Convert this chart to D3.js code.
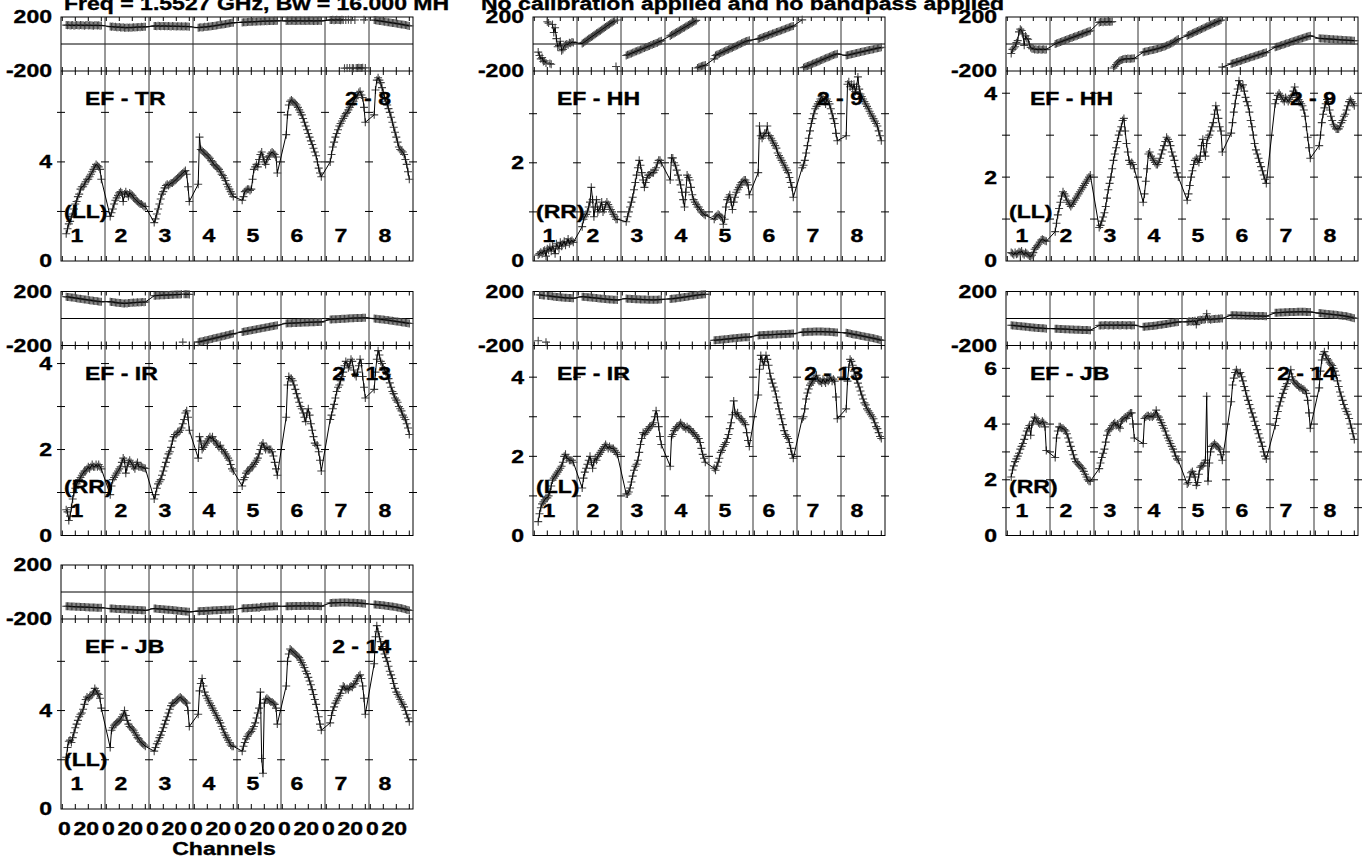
<!DOCTYPE html>
<html><head><meta charset="utf-8">
<script src="https://cdn.jsdelivr.net/npm/d3@7"></script>
<style>
body{margin:0;background:#fff}
svg{display:block;background:#fff}
text{font-family:"Liberation Sans",Arial,Helvetica,sans-serif;font-weight:bold;fill:#000;stroke:#000;stroke-width:0.35px}
</style>
</head><body>
<svg id="chart" width="1366" height="860"></svg>
<script>
// ---------------- data ----------------
const channels=[3,4,5,6,7,8,9,10,11,12,13,14,15,16,17,18,19,20,21,22,23,24,25,26,27,28,29,30];
const ifLabels=["1","2","3","4","5","6","7","8"];
const baselineNames=["EF - TR","EF - HH","EF - HH","EF - IR","EF - IR","EF - JB","EF - JB"];
const polNames=["(LL)","(RR)","(LL)","(RR)","(LL)","(RR)","(LL)"];
const pairNames=["2 - 8","2 - 9","2 - 9","2 - 13","2 - 13","2 - 14","2 - 14"];
const ampMax=[7.67,3.87,4.53,4.42,4.8,6.82,7.72];
const ampTickStep=[2,1,1,1,1,1,2];
const ampLabelStep=[4,2,2,2,2,2,4];
const phaseLabels=[200,-200];
const channelTicks=[0,10,20,30];
const channelLabels=[0,20];
const titleLeft="Freq = 1.5527 GHz, Bw = 16.000 MH";
const titleRight="No calibration applied and no bandpass applied";
const xAxisTitle="Channels";

const ampTR_LL=[
[1.1,1.3,1.5,1.6,1.8,1.9,2.1,2.3,2.4,2.6,2.7,2.9,3.0,3.0,3.1,3.2,3.3,3.3,3.4,3.5,3.6,3.7,3.8,3.9,3.85,3.8,3.7,3.3],
[1.8,1.95,2.1,2.3,2.45,2.55,2.65,2.75,2.8,2.75,2.4,2.7,2.8,2.7,2.6,2.75,2.7,2.65,2.55,2.5,2.45,2.4,2.35,2.3,2.3,2.25,2.2,2.2],
[1.55,1.7,1.9,2.1,2.3,2.5,2.7,2.8,2.95,3.05,3.1,3.05,3.1,3.15,3.15,3.2,3.25,3.3,3.35,3.4,3.45,3.5,3.55,3.6,3.65,3.5,3.0,2.4],
[3.1,5.0,4.5,4.45,4.4,4.35,4.3,4.25,4.2,4.15,4.05,4.0,3.9,3.85,3.8,3.75,3.7,3.6,3.5,3.45,3.35,3.25,3.1,3.0,2.9,2.8,2.7,2.6],
[2.45,2.6,2.8,2.85,2.9,2.9,2.85,2.9,3.3,3.7,3.8,3.9,3.8,4.1,4.3,4.4,4.2,4.0,3.9,4.1,4.2,4.25,4.35,4.4,4.35,4.3,4.2,3.55],
[5.1,5.9,6.3,6.45,6.5,6.45,6.4,6.35,6.3,6.2,6.1,6.0,5.9,5.75,5.6,5.45,5.3,5.15,5.0,4.85,4.7,4.55,4.4,4.25,4.0,3.75,3.55,3.4],
[4.0,4.3,4.6,4.8,5.0,5.15,5.3,5.45,5.55,5.65,5.75,5.85,5.95,6.0,6.1,6.2,6.3,6.35,6.45,6.55,6.6,6.7,6.8,6.85,6.7,6.6,6.2,5.6],
[5.9,6.9,7.3,7.4,7.3,7.2,7.0,6.8,6.6,6.45,6.3,6.15,6.0,5.8,5.6,5.4,5.2,5.0,4.8,4.6,4.5,4.45,4.4,4.3,4.1,3.9,3.6,3.3]];
const phsTR_LL=[
[140,138,141,137,139,140,136,139,141,138,137,140,139,138,136,139,140,137,138,139,137,136,138,139,137,138,136,137],
[130,128,129,126,127,125,124,126,123,122,124,121,120,122,121,123,120,122,124,123,125,124,126,125,127,126,128,127],
[133,134,132,135,133,131,134,133,132,134,131,133,132,130,133,131,132,130,131,132,130,131,129,130,131,129,130,128],
[121,122,124,123,125,127,126,128,130,129,131,133,134,136,137,139,140,142,144,145,147,149,150,152,153,155,157,158],
[160,161,162,161,163,164,163,165,164,166,165,167,166,168,167,168,169,168,170,169,170,171,170,171,170,172,171,172],
[171,172,170,171,173,172,171,170,172,171,173,172,171,170,172,171,170,172,173,171,172,170,171,172,171,173,172,171],
[178,177,179,176,178,179,177,178,176,179,178,-179,178,-178,179,-177,177,-178,-179,178,-177,-178,-176,-177,-178,-176,179,-177],
[177,176,174,173,171,170,168,167,165,164,162,161,159,158,156,155,153,152,150,149,147,145,144,142,140,138,136,134]];

const ampHH_RR=[
[0.12,0.15,0.18,0.15,0.2,0.22,0.1,0.25,0.22,0.28,0.2,0.3,0.25,0.15,0.35,0.3,0.25,0.38,0.3,0.35,0.4,0.32,0.38,0.45,0.35,0.4,0.42,0.38],
[0.7,0.85,0.9,0.95,1.0,1.1,1.2,1.5,1.25,0.9,1.1,1.25,1.0,1.05,1.1,1.2,1.0,1.05,1.15,1.2,1.15,1.1,1.05,1.0,0.95,0.9,0.85,0.85],
[0.8,0.9,1.0,1.1,1.2,1.3,1.45,1.6,1.75,1.9,2.05,1.95,1.8,1.65,1.5,1.6,1.7,1.75,1.75,1.8,1.8,1.8,1.85,1.9,2.0,2.05,2.05,2.0],
[1.65,2.1,2.1,2.0,1.95,1.85,1.75,1.65,1.55,1.4,1.25,1.1,1.4,1.75,1.7,1.65,1.5,1.35,1.25,1.2,1.15,1.1,1.1,1.05,1.0,0.98,0.95,0.93],
[0.85,0.9,0.92,0.95,0.93,0.9,0.88,0.75,0.85,1.1,1.25,1.3,1.35,1.2,1.05,1.2,1.3,1.4,1.45,1.5,1.55,1.6,1.62,1.65,1.65,1.6,1.55,1.35],
[1.8,2.75,2.55,2.5,2.55,2.6,2.6,2.75,2.55,2.55,2.5,2.45,2.4,2.35,2.3,2.2,2.15,2.1,2.05,2.0,1.95,1.9,1.85,1.8,1.7,1.6,1.5,1.3],
[1.9,1.95,2.05,2.2,2.35,2.5,2.65,2.8,2.9,3.0,3.1,3.15,3.2,3.25,3.3,3.35,3.3,3.25,3.2,3.3,3.25,3.2,3.1,3.0,2.9,2.8,2.6,2.45],
[2.55,3.6,3.65,3.55,3.6,3.5,3.6,3.45,3.55,3.75,3.5,3.4,3.35,3.3,3.25,3.2,3.15,3.1,3.05,3.0,2.95,2.9,2.85,2.8,2.75,2.65,2.55,2.45]];
const phsHH_RR=[
[-60,-85,-110,-100,-130,-125,-140,165,155,-145,-150,145,85,120,40,-20,-10,20,-50,-40,-15,-5,0,-5,10,5,15,12],
[3,10,17,24,31,38,45,52,58,65,72,79,86,92,99,106,113,120,126,133,140,147,153,160,166,172,-167,178],
[-85,-80,-78,-72,-70,-64,-62,-56,-54,-48,-46,-40,-38,-32,-30,-24,-22,-16,-14,-8,-6,0,2,8,10,16,20,25],
[60,66,72,77,83,89,95,100,106,112,118,123,129,135,141,146,152,158,164,169,175,-178,-173,-169,-165,-162,-159,-156],
[-110,-85,-80,-76,-72,-67,-63,-58,-54,-49,-45,-40,-36,-31,-27,-22,-18,-13,-9,-4,0,5,9,14,18,22,25,28],
[37,41,44,48,52,55,59,62,66,70,73,77,80,84,88,91,95,98,102,106,109,113,116,120,124,127,131,134],
[179,-175,-171,-167,-163,-159,-155,-151,-147,-143,-139,-135,-131,-127,-122,-118,-114,-110,-106,-102,-98,-94,-90,-86,-82,-78,-75,-73],
[-85,-83,-81,-78,-76,-74,-72,-69,-67,-65,-63,-60,-58,-56,-54,-51,-49,-47,-45,-42,-40,-38,-36,-33,-31,-29,-27,-24]];

const ampHH_LL=[
[0.2,0.18,0.15,0.2,0.16,0.18,0.22,0.2,0.24,0.18,0.15,0.2,0.18,0.15,0.12,0.1,0.14,0.2,0.28,0.32,0.36,0.4,0.45,0.5,0.52,0.5,0.48,0.47],
[0.7,0.9,1.1,1.25,1.4,1.55,1.65,1.6,1.55,1.45,1.4,1.35,1.3,1.35,1.4,1.45,1.5,1.55,1.6,1.65,1.7,1.75,1.8,1.85,1.9,1.95,2.0,2.05],
[0.8,0.85,0.95,1.05,1.15,1.3,1.5,1.7,1.85,2.0,2.2,2.4,2.55,2.7,2.85,3.0,3.1,3.2,3.35,3.4,3.1,2.8,2.6,2.4,2.3,2.35,2.3,2.2],
[1.4,1.6,1.9,2.2,2.55,2.6,2.5,2.45,2.4,2.35,2.3,2.3,2.35,2.45,2.55,2.65,2.75,2.85,2.95,2.9,2.85,2.75,2.6,2.5,2.4,2.25,2.1,2.0],
[1.45,1.6,1.8,2.0,2.15,2.3,2.4,2.45,2.4,2.35,2.5,2.75,2.9,2.6,2.5,2.8,2.95,3.0,3.1,3.2,3.3,3.5,3.7,3.6,3.4,3.2,3.1,2.6],
[3.05,3.3,3.55,3.75,3.95,4.1,4.3,4.2,4.15,4.2,4.05,3.9,3.8,3.7,3.55,3.35,3.2,3.0,2.8,2.65,2.55,2.45,2.35,2.25,2.15,2.05,1.95,1.85],
[3.75,3.85,3.95,4.0,3.95,3.9,3.85,3.8,3.9,3.85,3.8,3.85,3.9,3.95,4.05,4.15,4.0,3.9,3.85,3.8,3.75,3.7,3.6,3.45,3.2,2.95,2.7,2.45],
[2.75,3.0,3.3,3.5,3.65,3.75,3.85,3.8,3.6,3.45,3.35,3.25,3.2,3.15,3.15,3.15,3.2,3.3,3.35,3.45,3.5,3.6,3.7,3.8,3.85,3.8,3.75,3.7]];
const phsHH_LL=[
[-70,-40,-30,-20,10,25,90,110,100,75,-10,60,40,35,-5,-25,-35,-35,-40,-38,-42,-40,-38,-42,-40,-38,-42,-40],
[0,4,8,11,15,18,22,26,29,33,37,40,44,47,51,55,58,62,66,69,73,76,80,84,87,91,94,98],
[160,163,165,162,166,164,163,167,165,164,166,-178,-165,-152,-140,-130,-122,-118,-115,-112,-110,-111,-108,-110,-109,-107,-108,-106],
[-61,-58,-56,-54,-51,-49,-47,-44,-42,-40,-37,-35,-32,-29,-26,-23,-20,-16,-12,-8,-4,1,6,12,18,25,31,37],
[61,66,70,75,79,84,88,93,97,102,106,111,115,120,124,129,133,138,142,147,151,156,160,165,169,173,177,-171],
[-147,-144,-141,-138,-134,-131,-128,-125,-122,-118,-115,-112,-109,-106,-102,-99,-96,-93,-90,-86,-83,-80,-77,-74,-70,-67,-64,-61],
[-24,-21,-18,-15,-11,-8,-5,-2,2,5,8,11,15,18,21,24,27,31,34,37,40,43,47,50,53,56,59,61],
[42,41,41,40,39,39,38,37,37,36,35,35,34,33,33,32,31,31,30,29,29,28,27,27,26,26,25,25]];

const ampIR_RR=[
[0.6,0.55,0.35,0.45,0.65,0.85,1.0,1.1,1.2,1.25,1.3,1.35,1.4,1.45,1.5,1.5,1.55,1.6,1.55,1.6,1.65,1.6,1.6,1.65,1.6,1.65,1.6,1.55],
[0.95,1.15,1.3,1.35,1.4,1.45,1.5,1.55,1.6,1.7,1.8,1.75,1.45,1.6,1.7,1.75,1.7,1.65,1.6,1.55,1.65,1.7,1.6,1.6,1.6,1.58,1.57,1.56],
[0.85,0.95,1.1,1.2,1.25,1.3,1.4,1.5,1.6,1.7,1.8,1.9,1.95,2.05,2.2,2.3,2.35,2.35,2.4,2.4,2.45,2.5,2.6,2.7,2.85,2.9,2.75,2.45],
[1.8,2.3,2.2,2.0,2.05,2.1,2.15,2.2,2.25,2.3,2.25,2.3,2.2,2.2,2.15,2.1,2.05,2.1,2.0,2.0,1.95,1.9,1.85,1.8,1.75,1.65,1.55,1.5],
[1.15,1.3,1.35,1.45,1.5,1.5,1.55,1.6,1.6,1.65,1.7,1.75,1.8,1.9,2.0,2.1,2.15,2.05,2.0,2.05,2.0,2.0,2.0,1.95,1.85,1.7,1.55,1.4],
[2.75,3.5,3.7,3.65,3.65,3.6,3.5,3.4,3.3,3.2,3.1,3.0,2.95,2.85,2.75,2.65,2.85,2.95,2.8,2.6,2.45,2.3,2.15,2.1,2.1,1.95,1.75,1.5],
[2.7,2.8,2.95,3.05,3.2,3.35,3.45,3.5,3.6,3.7,3.8,3.95,4.05,4.0,3.9,3.95,4.1,4.05,3.85,3.75,3.7,3.8,3.95,4.1,4.0,3.7,3.45,3.2],
[3.4,3.8,4.1,4.3,4.2,4.05,4.0,3.9,3.85,3.8,3.75,3.65,3.55,3.45,3.35,3.3,3.2,3.15,3.1,3.0,2.95,2.9,2.8,2.75,2.7,2.6,2.5,2.35]];
const phsIR_RR=[
[162,160,159,157,156,155,153,152,150,149,147,146,144,143,141,140,139,137,136,134,133,131,130,129,127,126,125,124],
[125,123,122,120,118,117,116,115,114,113,112,112,113,112,114,115,116,117,118,117,119,120,119,121,120,122,121,122],
[168,169,170,170,171,172,172,173,173,174,174,175,175,176,176,176,177,177,178,178,178,179,-175,179,179,179,179,178],
[-175,-173,-170,-168,-166,-163,-161,-159,-157,-154,-152,-150,-147,-145,-143,-140,-138,-136,-133,-131,-129,-126,-124,-122,-119,-117,-115,-112],
[-100,-98,-96,-94,-92,-91,-89,-87,-85,-83,-81,-79,-78,-76,-74,-72,-70,-68,-67,-65,-63,-61,-59,-57,-55,-54,-52,-50],
[-37,-36,-36,-35,-35,-34,-34,-33,-33,-32,-32,-31,-31,-30,-30,-29,-29,-29,-28,-28,-28,-27,-27,-26,-26,-26,-25,-25],
[-8,-7,-6,-6,-5,-5,-4,-3,-3,-2,-2,-1,-1,0,0,1,1,2,2,3,3,3,4,4,4,5,5,5],
[0,-1,-2,-3,-5,-6,-7,-8,-9,-11,-12,-13,-15,-16,-17,-19,-20,-22,-23,-24,-26,-27,-29,-30,-32,-34,-35,-37]];

const ampIR_LL=[
[0.35,0.55,0.7,0.8,0.85,0.9,0.95,0.95,1.0,1.1,1.25,1.4,1.45,1.5,1.55,1.6,1.65,1.7,1.75,1.85,2.0,2.05,1.95,1.95,1.9,1.9,1.9,1.85],
[1.2,1.45,1.6,1.7,1.8,1.9,2.0,1.85,1.7,1.85,1.95,1.9,2.0,2.05,2.1,2.15,2.2,2.25,2.3,2.25,2.2,2.25,2.2,2.2,2.2,2.15,2.1,2.05],
[1.05,1.05,1.1,1.2,1.35,1.5,1.65,1.75,1.8,1.9,2.1,2.3,2.45,2.6,2.55,2.6,2.65,2.7,2.75,2.75,2.8,2.85,3.0,3.15,3.0,2.75,2.5,2.3],
[1.75,2.5,2.55,2.65,2.7,2.75,2.75,2.8,2.85,2.8,2.75,2.75,2.7,2.75,2.7,2.7,2.65,2.6,2.6,2.55,2.5,2.45,2.45,2.35,2.2,2.05,1.95,1.85],
[1.7,1.65,1.75,1.85,1.95,2.1,2.15,2.25,2.3,2.35,2.45,2.55,2.7,2.85,3.05,3.4,3.1,3.05,3.1,3.0,2.95,2.95,2.9,2.85,2.8,2.6,2.4,2.25],
[3.55,4.2,4.55,4.45,4.3,4.4,4.55,4.45,4.3,4.1,3.95,3.85,3.75,3.65,3.5,3.35,3.2,3.05,2.95,2.8,2.65,2.55,2.5,2.45,2.35,2.2,2.05,1.95],
[2.95,3.0,3.2,3.45,3.6,3.7,3.8,3.85,3.9,3.95,4.0,4.05,3.95,3.9,3.9,3.85,3.95,3.9,3.85,3.95,3.9,3.95,4.0,3.9,3.95,3.9,3.5,2.95],
[3.2,3.9,4.25,4.45,4.4,4.3,4.15,4.05,3.95,3.85,3.75,3.65,3.55,3.45,3.35,3.3,3.2,3.15,3.1,3.05,3.0,2.95,2.85,2.75,2.7,2.6,2.5,2.45]];
const phsIR_LL=[
[-165,175,174,172,171,170,-175,168,167,166,165,164,162,161,160,159,158,157,156,155,154,153,153,152,151,151,150,150],
[162,161,160,159,158,157,156,155,154,153,152,151,150,149,148,147,146,145,144,143,142,141,140,140,139,138,138,137],
[148,147,146,146,145,144,144,143,143,142,142,141,141,140,140,140,139,139,139,138,138,138,138,139,139,140,141,142],
[145,146,147,148,149,150,152,153,154,156,157,159,160,162,163,165,166,168,169,171,172,174,175,176,177,178,179,179],
[-162,-161,-160,-159,-158,-157,-156,-155,-154,-153,-152,-151,-150,-149,-148,-147,-146,-145,-144,-143,-142,-141,-140,-139,-139,-138,-138,-137],
[-125,-124,-124,-123,-123,-122,-122,-121,-121,-120,-120,-119,-119,-118,-118,-117,-117,-116,-116,-115,-115,-114,-114,-113,-113,-113,-112,-112],
[-102,-101,-100,-100,-99,-99,-98,-98,-98,-97,-97,-97,-97,-97,-97,-97,-97,-98,-98,-98,-99,-99,-100,-100,-101,-102,-103,-104],
[-106,-108,-110,-112,-114,-116,-118,-120,-121,-123,-125,-127,-129,-131,-133,-135,-137,-139,-141,-143,-145,-147,-149,-151,-154,-156,-159,-162]];

const ampJB_RR=[
[2.1,2.35,2.5,2.65,2.75,2.85,2.95,3.1,3.2,3.3,3.45,3.6,3.75,3.85,3.95,3.6,4.0,4.1,4.25,4.2,4.1,4.05,4.0,4.05,4.1,4.05,3.9,3.05],
[2.8,3.5,3.75,3.9,3.9,3.85,3.85,3.8,3.75,3.65,3.5,3.35,3.2,3.05,2.9,2.75,2.65,2.6,2.55,2.5,2.45,2.4,2.3,2.2,2.1,2.0,1.95,1.95],
[2.4,2.6,2.8,2.95,3.1,3.35,3.6,3.75,3.8,3.85,3.95,4.0,4.05,3.95,4.0,3.9,3.85,4.1,4.15,4.2,4.25,4.2,4.3,4.35,4.4,4.4,4.0,3.5],
[3.3,4.2,4.25,4.3,4.3,4.25,4.3,4.25,4.3,4.35,4.5,4.3,4.25,4.15,4.05,3.95,3.85,3.75,3.6,3.5,3.4,3.3,3.2,3.1,3.0,2.85,2.75,2.7],
[1.85,1.9,2.1,2.25,2.3,2.2,2.1,1.8,1.9,2.2,2.45,2.5,2.5,2.6,2.7,5.0,1.95,2.6,3.0,3.2,3.25,3.3,3.25,3.2,3.15,3.1,2.9,2.7],
[4.8,5.4,5.65,5.85,5.95,5.85,5.8,5.85,5.7,5.55,5.35,5.2,5.0,4.85,4.7,4.55,4.4,4.25,4.1,3.95,3.8,3.65,3.5,3.35,3.2,3.0,2.85,2.75],
[3.95,4.2,4.45,4.65,4.8,4.95,5.1,5.25,5.35,5.45,5.6,5.8,5.95,5.7,5.55,5.5,5.45,5.4,5.35,5.3,5.3,5.25,5.25,5.2,5.1,4.85,4.4,3.85],
[5.3,5.9,6.3,6.5,6.6,6.45,6.35,6.3,6.2,6.15,6.1,6.0,5.9,5.75,5.55,5.35,5.15,5.0,4.85,4.7,4.55,4.45,4.35,4.2,4.0,3.85,3.65,3.45]];
const phsJB_RR=[
[-50,-51,-52,-53,-54,-55,-56,-57,-58,-59,-60,-61,-62,-63,-64,-65,-66,-67,-68,-69,-70,-70,-71,-72,-72,-73,-74,-75],
[-75,-76,-76,-77,-77,-78,-78,-79,-79,-80,-80,-81,-81,-82,-82,-83,-83,-84,-84,-84,-85,-85,-85,-86,-86,-86,-87,-87],
[-52,-51,-50,-51,-50,-49,-50,-51,-50,-49,-50,-51,-50,-50,-49,-50,-51,-50,-49,-50,-50,-51,-50,-49,-50,-51,-50,-50],
[-62,-61,-60,-59,-58,-57,-56,-55,-54,-53,-51,-50,-49,-47,-46,-44,-43,-41,-40,-38,-36,-35,-33,-31,-30,-28,-27,-25],
[-25,-22,-20,-24,-18,-22,-16,-45,-14,-12,-10,-12,-8,-10,-6,35,-6,-4,-10,-5,-3,-4,-2,-3,0,-1,1,0],
[25,25,24,24,24,23,23,23,22,22,22,21,21,21,21,20,20,20,19,19,19,19,18,18,18,18,17,17],
[42,43,43,44,44,45,45,46,46,47,47,48,48,48,49,49,49,50,50,50,50,50,50,50,49,49,48,48],
[40,39,38,37,36,35,34,33,32,31,30,29,28,27,26,25,23,22,21,19,18,16,14,12,10,7,4,1]];

const ampJB_LL=[
[2.1,2.5,2.75,2.8,2.7,2.9,3.1,3.3,3.45,3.6,3.75,3.85,3.9,4.05,4.25,4.45,4.55,4.5,4.55,4.6,4.65,4.75,4.9,4.8,4.7,4.65,4.5,4.1],
[2.5,3.2,3.3,3.4,3.45,3.5,3.55,3.6,3.65,3.75,3.85,4.0,3.8,3.6,3.45,3.35,3.3,3.25,3.2,3.1,3.0,2.9,2.85,2.75,2.7,2.65,2.6,2.55],
[2.35,2.5,2.65,2.75,2.9,3.0,3.15,3.3,3.45,3.6,3.75,3.9,4.05,4.2,4.3,4.3,4.35,4.4,4.45,4.5,4.55,4.5,4.45,4.4,4.35,4.3,4.0,3.35],
[3.85,4.8,5.1,5.3,5.0,4.75,4.6,4.5,4.4,4.3,4.2,4.1,4.0,3.9,3.8,3.7,3.6,3.5,3.35,3.25,3.1,3.0,2.9,2.8,2.7,2.6,2.55,2.55],
[2.35,2.55,2.7,2.85,2.95,3.05,3.1,3.15,3.25,3.35,3.5,3.7,3.9,4.1,4.75,2.05,1.45,4.3,4.45,4.5,4.45,4.4,4.35,4.35,4.3,4.25,4.1,3.45],
[5.0,6.0,6.3,6.5,6.45,6.4,6.35,6.3,6.25,6.2,6.15,6.05,5.95,5.85,5.75,5.6,5.5,5.35,5.2,5.05,4.85,4.65,4.45,4.25,4.0,3.75,3.45,3.2],
[3.5,3.8,4.0,4.15,4.3,4.4,4.5,4.6,4.7,4.85,5.0,4.95,4.85,4.9,4.85,4.95,5.0,4.95,5.05,5.1,5.2,5.3,5.4,5.45,5.3,5.0,4.5,3.85],
[5.9,7.0,7.45,7.2,7.0,6.8,6.6,6.45,6.3,6.15,6.0,5.8,5.6,5.45,5.3,5.1,4.9,4.75,4.65,4.55,4.45,4.35,4.25,4.15,4.0,3.85,3.7,3.55]];
const phsJB_LL=[
[-105,-106,-106,-107,-107,-108,-108,-109,-109,-110,-110,-111,-111,-112,-112,-113,-113,-113,-114,-114,-115,-115,-115,-116,-116,-116,-117,-117],
[-122,-123,-123,-124,-124,-125,-125,-126,-126,-127,-127,-128,-128,-129,-129,-130,-131,-131,-132,-132,-133,-133,-134,-134,-135,-135,-136,-137],
[-122,-123,-124,-125,-125,-126,-127,-128,-129,-130,-131,-131,-132,-133,-134,-135,-136,-137,-138,-139,-140,-141,-142,-143,-144,-145,-146,-147],
[-142,-142,-141,-141,-140,-140,-139,-139,-138,-138,-137,-137,-136,-136,-135,-135,-134,-134,-133,-133,-132,-132,-131,-131,-131,-130,-130,-130],
[-122,-121,-121,-120,-120,-119,-118,-118,-117,-116,-116,-115,-114,-118,-112,-110,-112,-110,-109,-109,-108,-108,-107,-107,-106,-106,-105,-105],
[-106,-105,-105,-104,-105,-104,-104,-103,-104,-103,-103,-104,-103,-103,-102,-103,-103,-102,-103,-103,-102,-103,-104,-103,-104,-104,-105,-105],
[-82,-81,-80,-80,-79,-79,-79,-78,-78,-78,-78,-78,-78,-78,-78,-79,-79,-79,-80,-80,-81,-81,-82,-83,-84,-85,-86,-87],
[-92,-93,-94,-95,-96,-97,-98,-99,-100,-101,-103,-104,-105,-107,-108,-110,-111,-113,-115,-117,-119,-121,-123,-125,-128,-131,-134,-137]];

const ampSets=[ampTR_LL,ampHH_RR,ampHH_LL,ampIR_RR,ampIR_LL,ampJB_RR,ampJB_LL];
const phsSets=[phsTR_LL,phsHH_RR,phsHH_LL,phsIR_RR,phsIR_LL,phsJB_RR,phsJB_LL];

// ---------------- layout ----------------
const colLeft=[61,533,1006], rowTop=[17,291.5,565];
const panelW=352, phaseH=54, totalH=244;
const nIF=8, ifPx=panelW/nIF, chPx=1.3, ifSpan=ifPx/chPx;
const SX=1.28, FS=18;

const svg=d3.select("#chart");
svg.append("rect").attr("width",1366).attr("height",860).attr("fill","#fff");

function txt(g,x,y,s,anchor){
  g.append("text").attr("transform",`translate(${x},${y}) scale(${SX},1)`)
   .attr("text-anchor",anchor||"start").attr("font-size",FS).text(s);
}

txt(svg,64,10,titleLeft,"start");
txt(svg,481,10,titleRight,"start");

ampSets.forEach((amps,p)=>{
  const L=colLeft[p%3], T=rowTop[Math.floor(p/3)];
  const R=L+panelW, S=T+phaseH, B=T+totalH;
  const g=svg.append("g");
  const x=d3.scaleLinear().domain([0,nIF*ifSpan]).range([L,R]);
  const gx=(k,c)=>x(k*ifSpan+c+1);
  const yP=d3.scaleLinear().domain([-200,200]).range([S,T]);
  const yA=d3.scaleLinear().domain([0,ampMax[p]]).range([B,S]);

  // frame & guide lines
  g.append("rect").attr("x",L).attr("y",T).attr("width",panelW).attr("height",totalH)
    .attr("fill","none").attr("stroke","#000").attr("stroke-width",1);
  g.append("line").attr("x1",L).attr("x2",R).attr("y1",S).attr("y2",S).attr("stroke","#000");
  g.append("line").attr("x1",L).attr("x2",R).attr("y1",yP(0)).attr("y2",yP(0)).attr("stroke","#000");
  const bounds=d3.range(nIF+1).map(k=>x(k*ifSpan));
  g.selectAll("line.ifb").data(bounds.slice(1,nIF)).join("line")
    .attr("x1",d=>d).attr("x2",d=>d).attr("y1",T).attr("y2",B)
    .attr("stroke","#333").attr("stroke-width",1);

  // amplitude ticks at every vertical line
  const aT=d3.range(ampTickStep[p],ampMax[p],ampTickStep[p]);
  const tk=[];
  aT.forEach(v=>bounds.forEach(bx=>tk.push([bx-4,yA(v),bx+4,yA(v)])));
  // channel ticks
  d3.range(nIF).forEach(k=>channelTicks.forEach(c=>{
    const cx=gx(k,c);
    tk.push([cx,B,cx,B-5]); tk.push([cx,S-4,cx,S+4]); tk.push([cx,T,cx,T+4]);
  }));
  g.selectAll("line.tk").data(tk).join("line")
    .attr("x1",d=>d[0]).attr("y1",d=>d[1]).attr("x2",d=>d[2]).attr("y2",d=>d[3])
    .attr("stroke","#000").attr("stroke-width",1);

  // points
  const aPts=[], pPts=[];
  amps.forEach((arr,k)=>arr.forEach((v,i)=>aPts.push([gx(k,channels[i]),yA(v)])));
  phsSets[p].forEach((arr,k)=>arr.forEach((v,i)=>pPts.push({x:gx(k,channels[i]),v:v})));

  // phase line segments (break at wraps)
  const segs=[]; let cur=[];
  pPts.forEach((d,i)=>{
    if(i>0 && Math.abs(d.v-pPts[i-1].v)>180){segs.push(cur);cur=[];}
    cur.push([d.x,yP(d.v)]);
  });
  segs.push(cur);
  const line=d3.line();

  const plus=(px,py)=>`M${px-4},${py}h8M${px},${py-4}v8`;
  g.selectAll("path.pm").data(pPts).join("path")
    .attr("d",d=>plus(d.x,yP(d.v))).attr("stroke","#444").attr("stroke-width",1.1).attr("fill","none");
  g.selectAll("path.am").data(aPts).join("path")
    .attr("d",d=>plus(d[0],d[1])).attr("stroke","#444").attr("stroke-width",1.1).attr("fill","none");
  g.selectAll("path.pl").data(segs).join("path").attr("d",line)
    .attr("fill","none").attr("stroke","#000").attr("stroke-width",1);
  g.append("path").attr("d",line(aPts)).attr("fill","none").attr("stroke","#000").attr("stroke-width",1);

  // axis labels
  phaseLabels.forEach(v=>txt(g,L-9,yP(v)+6.4,String(v),"end"));
  d3.range(0,ampMax[p]+1e-9,ampLabelStep[p]).forEach(v=>txt(g,L-9,yA(v)+6.4,String(v),"end"));

  // annotation texts
  txt(g,L+24,S+34,baselineNames[p],"start");
  txt(g,R-22,S+34,pairNames[p],"end");
  txt(g,L+3,B-43,polNames[p],"start");
  ifLabels.forEach((s,k)=>txt(g,x(k*ifSpan)+16,B-19,s,"middle"));

  if(p===6){
    d3.range(nIF).forEach(k=>{
      txt(g,gx(k,channelLabels[0])+2,B+26,String(channelLabels[0]),"middle");
      txt(g,gx(k,channelLabels[1])-2,B+26,String(channelLabels[1]),"middle");
    });
    txt(g,224,855,xAxisTitle,"middle");
  }
});
</script>
</body></html>
